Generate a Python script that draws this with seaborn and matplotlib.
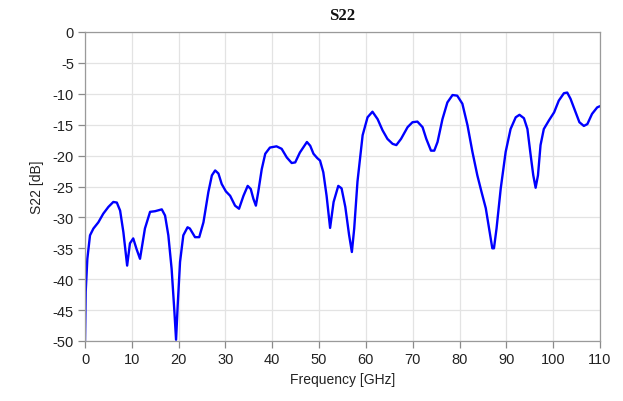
import matplotlib
matplotlib.use("Agg")
import matplotlib.pyplot as plt
import seaborn as sns
import pandas as pd

freq_ghz = [0, 0.15, 0.5, 1.07, 1.8, 2.85, 3.9, 5.0, 6.05, 6.8, 7.5, 8.2, 9.0, 9.6,
            10.3, 11.0, 11.75, 12.8, 13.9, 14.95, 16.4, 17.1, 17.8, 18.5, 19.1, 19.45,
            19.8, 20.3, 21.0, 21.9, 22.4, 23.5, 24.4, 25.3, 26.35, 27.1, 27.8, 28.5,
            29.2, 30.1, 31.0, 32.05, 32.9, 33.85, 34.75, 35.4, 35.97, 36.5, 37.0,
            37.75, 38.5, 39.5, 40.9, 42.0, 43.1, 44.15, 44.9, 45.9, 47.4, 48.1, 48.8,
            49.6, 50.2, 50.9, 51.6, 52.35, 53.1, 54.1, 54.8, 55.6, 56.4, 57.0, 57.5,
            58.2, 59.3, 60.35, 61.4, 62.5, 63.55, 64.6, 65.7, 66.5, 67.5, 68.9, 69.95,
            71.0, 72.1, 72.9, 73.9, 74.6, 75.3, 76.35, 77.4, 78.5, 79.5, 80.6, 81.7,
            82.75, 83.8, 84.7, 85.6, 86.3, 87.0, 87.35, 87.9, 88.8, 89.85, 90.9, 92.0,
            92.8, 93.75, 94.5, 95.2, 95.75, 96.25, 96.75, 97.3, 98.0, 99.1, 100.2,
            101.2, 102.3, 103.0, 103.7, 104.8, 105.6, 106.55, 107.3, 108.3, 109.4, 110.0]

s22_db = [-50.0, -42.0, -36.7, -32.9, -31.8, -30.8, -29.4, -28.3, -27.5, -27.6, -28.9,
          -32.4, -37.8, -34.2, -33.4, -35.1, -36.7, -31.8, -29.1, -29.0, -28.7, -29.7,
          -32.9, -38.3, -45.3, -49.8, -44.2, -37.2, -32.9, -31.6, -31.8, -33.2, -33.2,
          -30.8, -25.9, -23.2, -22.4, -22.9, -24.6, -25.8, -26.5, -28.1, -28.6, -26.5,
          -24.9, -25.4, -27.0, -28.1, -25.9, -22.2, -19.7, -18.7, -18.5, -18.9, -20.3,
          -21.2, -21.1, -19.5, -17.8, -18.4, -19.7, -20.4, -20.8, -22.7, -26.5, -31.7,
          -27.5, -24.9, -25.3, -28.3, -32.8, -35.6, -31.8, -24.2, -16.7, -13.8, -12.9,
          -14.1, -15.9, -17.3, -18.1, -18.3, -17.3, -15.4, -14.6, -14.5, -15.4, -17.3,
          -19.2, -19.2, -17.8, -14.1, -11.4, -10.2, -10.3, -11.6, -15.1, -19.4, -23.2,
          -25.9, -28.5, -31.8, -35.0, -35.0, -31.8, -25.3, -19.4, -15.7, -13.8, -13.4,
          -13.95, -15.7, -20.0, -23.2, -25.2, -23.2, -18.3, -15.7, -14.3, -13.0, -11.1,
          -9.9, -9.8, -10.8, -13.0, -14.6, -15.2, -14.9, -13.25, -12.2, -12.0]

x_ticks = list(range(0, 111, 10))
y_ticks = list(range(-50, 1, 5))

df = pd.DataFrame({"Frequency": freq_ghz, "S22": s22_db})

sns.set_theme(style="whitegrid")
plt.rcParams["font.family"] = ["Liberation Sans", "DejaVu Sans"]
plt.rcParams["axes.unicode_minus"] = False

fig = plt.figure(figsize=(6.23, 4.02), dpi=100)
ax = fig.add_axes([85 / 623, 1 - 342 / 402, 515 / 623, 309 / 402])

sns.lineplot(data=df, x="Frequency", y="S22", ax=ax, color="#0000FF",
             linewidth=1.7, sort=False, solid_joinstyle="round",
             solid_capstyle="round")

ax.set_xlim(0, 110)
ax.set_ylim(-50, 0)
ax.set_xticks(x_ticks)
ax.set_yticks(y_ticks)
ax.grid(True, color="#e3e3e3", linewidth=0.9)
for side in ["left", "bottom", "top", "right"]:
    ax.spines[side].set_visible(True)
    ax.spines[side].set_color("#9a9a9a")
    ax.spines[side].set_linewidth(0.9)
ax.tick_params(axis="both", which="major", direction="out", length=5, width=0.9,
               color="#8a8a8a", labelsize=10.5, labelcolor="#222222", pad=3,
               bottom=True, left=True)
ax.set_xlabel("Frequency [GHz]", fontsize=10, color="#222222", labelpad=4)
ax.set_ylabel("S22 [dB]", fontsize=10, color="#222222", labelpad=6)
ax.set_title("S22", fontsize=12, fontweight="bold", family="Liberation Serif",
             color="#111111", pad=9)
ax.set_facecolor("white")

fig.savefig("out.png", dpi=100, facecolor="white")
